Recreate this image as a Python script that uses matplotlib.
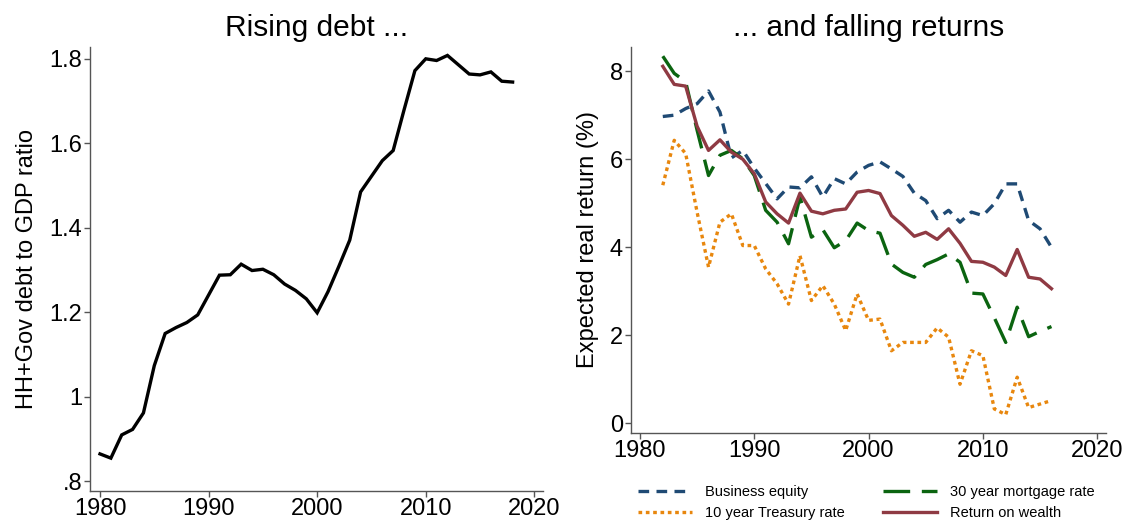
import matplotlib
matplotlib.use("Agg")
import matplotlib.pyplot as plt
from matplotlib.ticker import FuncFormatter

plt.rcParams['font.family'] = ['Liberation Sans', 'DejaVu Sans']

# left panel: household + government debt to GDP
debt_years = list(range(1980, 2019))
debt_ratio = [0.865, 0.855, 0.910, 0.923, 0.962, 1.074, 1.150, 1.164, 1.176, 1.194,
              1.241, 1.288, 1.289, 1.314, 1.299, 1.302, 1.289, 1.267, 1.252, 1.232,
              1.199, 1.249, 1.309, 1.371, 1.485, 1.522, 1.559, 1.583, 1.679, 1.772,
              1.800, 1.796, 1.808, 1.786, 1.764, 1.762, 1.769, 1.747, 1.745]

# right panel: expected real returns
ret_years = list(range(1982, 2017))
business_equity = [6.97, 7.00, 7.15, 7.26, 7.55, 7.07, 6.03, 6.20, 5.80, 5.45,
                   5.10, 5.37, 5.35, 5.60, 5.14, 5.56, 5.44, 5.71, 5.86, 5.94,
                   5.78, 5.61, 5.23, 5.06, 4.65, 4.84, 4.57, 4.80, 4.72, 4.99,
                   5.44, 5.44, 4.61, 4.42, 4.00]
mortgage_30y = [8.34, 7.95, 7.76, 6.66, 5.63, 6.09, 6.20, 6.01, 5.63, 4.84,
                4.57, 4.08, 5.14, 4.23, 4.40, 3.99, 4.15, 4.55, 4.38, 4.32,
                3.62, 3.43, 3.32, 3.61, 3.72, 3.85, 3.66, 2.96, 2.94, 2.40,
                1.84, 2.64, 1.97, 2.09, 2.20]
treasury_10y = [5.41, 6.43, 6.13, 4.80, 3.55, 4.57, 4.76, 4.04, 4.04, 3.51,
                3.17, 2.71, 3.81, 2.79, 3.13, 2.71, 2.11, 2.94, 2.34, 2.37,
                1.65, 1.84, 1.84, 1.84, 2.17, 1.96, 0.89, 1.65, 1.54, 0.33,
                0.20, 1.05, 0.36, 0.44, 0.52]
wealth_return = [8.11, 7.70, 7.66, 6.75, 6.20, 6.44, 6.16, 6.00, 5.67, 5.03,
                 4.76, 4.55, 5.23, 4.82, 4.76, 4.84, 4.87, 5.25, 5.29, 5.22,
                 4.72, 4.50, 4.25, 4.34, 4.18, 4.42, 4.09, 3.68, 3.66, 3.55,
                 3.36, 3.95, 3.32, 3.28, 3.06]

fig = plt.figure(figsize=(11.28, 5.22), dpi=100)
ax1 = fig.add_axes([0.0798, 0.0600, 0.4016, 0.850])
ax2 = fig.add_axes([0.5591, 0.1711, 0.4214, 0.739])

axis_col = '#555555'
for ax in (ax1, ax2):
    for s in ['top', 'right']:
        ax.spines[s].set_visible(False)
    for s in ['left', 'bottom']:
        ax.spines[s].set_color(axis_col)
        ax.spines[s].set_linewidth(1.0)
    ax.tick_params(colors=axis_col, labelcolor='black', labelsize=17, length=4, width=1.0, pad=1.5)

# left
ax1.plot(debt_years, debt_ratio, color='black', lw=2.4, solid_joinstyle='miter')
ax1.set_xlim(1979.08, 2020.8)
ax1.set_ylim(0.778, 1.828)
ax1.set_xticks([1980, 1990, 2000, 2010, 2020])
ax1.set_yticks([0.8, 1.0, 1.2, 1.4, 1.6, 1.8])
ax1.yaxis.set_major_formatter(FuncFormatter(lambda v, p: ('%g' % round(v, 1)).lstrip('0') if v < 1 else '%g' % round(v, 1)))
ax1.set_ylabel('HH+Gov debt to GDP ratio', fontsize=17, labelpad=8)
ax1.set_title('Rising debt ...', fontsize=21.5, pad=8)

# right
ax2.plot(ret_years, business_equity, color='#1f4a74', lw=2.4, dashes=(3.2, 2.2), label='Business equity')
ax2.plot(ret_years, treasury_10y, color='#e8870e', lw=2.4, dashes=(1.1, 1.1), label='10 year Treasury rate')
ax2.plot(ret_years, mortgage_30y, color='#0b6410', lw=2.4, dashes=(8, 3.5), label='30 year mortgage rate')
ax2.plot(ret_years, wealth_return, color='#8f3a43', lw=2.4, label='Return on wealth')
ax2.set_xlim(1979.19, 2020.77)
ax2.set_ylim(-0.21, 8.55)
ax2.set_xticks([1980, 1990, 2000, 2010, 2020])
ax2.set_yticks([0, 2, 4, 6, 8])
ax2.set_ylabel('Expected real return (%)', fontsize=17, labelpad=8)
ax2.set_title('... and falling returns', fontsize=21.5, pad=8)

h, l = ax2.get_legend_handles_labels()
fig.legend(h, l, loc='center', bbox_to_anchor=(0.768, 0.037), ncol=2, frameon=False,
           fontsize=10.5, handlelength=3.7, handletextpad=0.9, columnspacing=2.6, labelspacing=0.45)

fig.savefig('out.png', dpi=100)
